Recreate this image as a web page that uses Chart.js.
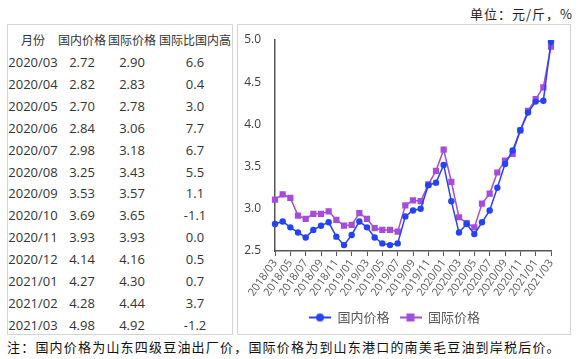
<!DOCTYPE html>
<html>
<head>
<meta charset="utf-8">
<script src="https://cdn.jsdelivr.net/npm/chart.js@4.4.1/dist/chart.umd.min.js"></script>
<style>
    body { margin: 0; width: 582px; height: 359px; background: #fff; position: relative; overflow: hidden;
        font-family: "Open Sans", "Noto Sans CJK SC", sans-serif; color: #333; }
    #unit { position: absolute; right: 9px; top: 4px; font-size: 13px; font-family: "Noto Sans CJK SC"; color: #222; letter-spacing: 1px; }
    #tableBox { position: absolute; left: 7px; top: 24px; width: 226px; height: 311px; box-sizing: border-box; border: 1px solid #d4d4d4; }
    #tableBox div { position: absolute; font-size: 13px; white-space: nowrap; transform: translate(-50%, -50%); }
    #tableBox div.head { font-size: 12px; font-family: "Noto Sans CJK SC", sans-serif; }
    #chartBox { position: absolute; left: 237px; top: 24px; width: 334px; height: 311px; box-sizing: border-box; border: 1px solid #d4d4d4; }
    #note { position: absolute; left: 7px; top: 337px; font-size: 13px; font-family: "Noto Sans CJK SC"; color: #111; letter-spacing: 1.2px; white-space: nowrap; }
</style>
</head>
<body>
<div id="unit">单位：元/斤，%</div>
<div id="tableBox"></div>
<div id="chartBox"><canvas id="myChart" width="332" height="309"></canvas></div>
<div id="note">注：国内价格为山东四级豆油出厂价，国际价格为到山东港口的南美毛豆油到岸税后价。</div>
<script>
const labels = [
    '2018/03', '2018/04', '2018/05', '2018/06', '2018/07', '2018/08', '2018/09', '2018/10', '2018/11', '2018/12',
    '2019/01', '2019/02', '2019/03', '2019/04', '2019/05', '2019/06', '2019/07', '2019/08', '2019/09', '2019/10',
    '2019/11', '2019/12', '2020/01', '2020/02', '2020/03', '2020/04', '2020/05', '2020/06', '2020/07', '2020/08',
    '2020/09', '2020/10', '2020/11', '2020/12', '2021/01', '2021/02', '2021/03'
];
const domesticPrice = [
    2.82, 2.85, 2.78, 2.72, 2.66, 2.75, 2.80, 2.84, 2.67, 2.57,
    2.69, 2.85, 2.78, 2.66, 2.59, 2.57, 2.59, 2.91, 2.98, 3.00,
    3.28, 3.31, 3.52, 3.09, 2.72, 2.82, 2.70, 2.84, 2.98, 3.25,
    3.53, 3.69, 3.93, 4.14, 4.27, 4.28, 4.98
];
const internationalPrice = [
    3.11, 3.17, 3.13, 2.92, 2.88, 2.94, 2.94, 2.97, 2.87, 2.80,
    2.81, 2.95, 2.88, 2.77, 2.75, 2.75, 2.73, 3.04, 3.10, 3.09,
    3.29, 3.45, 3.70, 3.32, 2.90, 2.83, 2.78, 3.06, 3.18, 3.43,
    3.57, 3.65, 3.93, 4.16, 4.30, 4.44, 4.92
];
const seriesNames = ['国内价格', '国际价格'];
const tableHeader = ['月份', '国内价格', '国际价格', '国际比国内高'];
const tableMonths = ['2020/03', '2020/04', '2020/05', '2020/06', '2020/07', '2020/08', '2020/09',
    '2020/10', '2020/11', '2020/12', '2021/01', '2021/02', '2021/03'];
const tableDomestic = ['2.72', '2.82', '2.70', '2.84', '2.98', '3.25', '3.53', '3.69', '3.93', '4.14', '4.27', '4.28', '4.98'];
const tableInternational = ['2.90', '2.83', '2.78', '3.06', '3.18', '3.43', '3.57', '3.65', '3.93', '4.16', '4.30', '4.44', '4.92'];
const tableDiff = ['6.6', '0.4', '3.0', '7.7', '6.7', '5.5', '1.1', '-1.1', '0.0', '0.5', '0.7', '3.7', '-1.2'];

const blue = '#2343f4';
const purple = '#a64cdc';

// table on the left
const tableBox = document.getElementById('tableBox');
const colX = [25, 74, 124, 187];
function addCell(text, x, y, cls) {
    let cell = document.createElement('div');
    cell.textContent = text;
    if (cls) cell.className = cls;
    cell.style.left = x + 'px';
    cell.style.top = y + 'px';
    tableBox.appendChild(cell);
}
tableHeader.forEach((h, c) => addCell(h, colX[c], 14, 'head'));
tableMonths.forEach((m, r) => {
    let y = 37 + r * 21.9;
    addCell(m, colX[0], y);
    addCell(tableDomestic[r], colX[1], y);
    addCell(tableInternational[r], colX[2], y);
    addCell(tableDiff[r], colX[3], y);
});

// legend icons: line with marker
function makeIcon(color, square) {
    let c = document.createElement('canvas');
    c.width = 22;
    c.height = 10;
    let g = c.getContext('2d');
    g.strokeStyle = color;
    g.lineWidth = 2;
    g.beginPath();
    g.moveTo(0, 5);
    g.lineTo(22, 5);
    g.stroke();
    g.fillStyle = color;
    if (square) {
        g.fillRect(7, 1, 8, 8);
    } else {
        g.beginPath();
        g.arc(11, 5, 4, 0, Math.PI * 2);
        g.fill();
    }
    return c;
}
const legendIcons = [makeIcon(blue, false), makeIcon(purple, true)];

const ctx = document.getElementById('myChart');
new Chart(ctx, {
    type: 'line',
    data: {
        labels: labels,
        datasets: [
            {
                label: seriesNames[0],
                data: domesticPrice,
                borderColor: blue,
                backgroundColor: blue,
                borderWidth: 1.5,
                pointStyle: 'circle',
                pointRadius: 3.2,
                pointBorderWidth: 0,
                tension: 0,
            },
            {
                label: seriesNames[1],
                data: internationalPrice,
                borderColor: purple,
                backgroundColor: purple,
                borderWidth: 1.5,
                pointStyle: 'rect',
                pointRadius: 4.4,
                pointBorderWidth: 0,
                tension: 0,
            }
        ]
    },
    options: {
        responsive: false,
        animation: false,
        layout: { padding: { top: 15, right: 19, left: 0, bottom: 0 } },
        plugins: {
            tooltip: { enabled: false },
            legend: {
                position: 'bottom',
                labels: {
                    usePointStyle: true,
                    pointStyleWidth: 22,
                    padding: 10,
                    color: '#595959',
                    font: { family: '"Noto Sans CJK SC", sans-serif', size: 13 },
                    generateLabels: function (chart) {
                        let items = Chart.defaults.plugins.legend.labels.generateLabels(chart);
                        items.forEach((item, i) => { item.pointStyle = legendIcons[i]; });
                        return items;
                    }
                }
            }
        },
        scales: {
            x: {
                offset: false,
                grid: { drawOnChartArea: false, drawTicks: true, tickLength: 5, color: '#555' },
                border: { display: true, color: '#555', width: 1.5 },
                ticks: {
                    autoSkip: false,
                    maxRotation: 55,
                    minRotation: 55,
                    padding: 1,
                    color: '#595959',
                    font: { family: '"Open Sans", sans-serif', size: 11 },
                    callback: function (value, index) {
                        return index % 2 === 0 ? this.getLabelForValue(value) : null;
                    }
                },
                afterFit: function (scale) { scale.height = 50; }
            },
            y: {
                min: 2.5,
                max: 5.0,
                grid: { display: false },
                border: { display: true, color: '#555', width: 1.5 },
                ticks: {
                    stepSize: 0.5,
                    padding: 6,
                    color: '#404040',
                    font: { family: '"Open Sans", sans-serif', size: 12 },
                    callback: function (value) { return value.toFixed(1); }
                },
                afterFit: function (scale) { scale.width = 37; }
            }
        }
    }
});
</script>
</body>
</html>
